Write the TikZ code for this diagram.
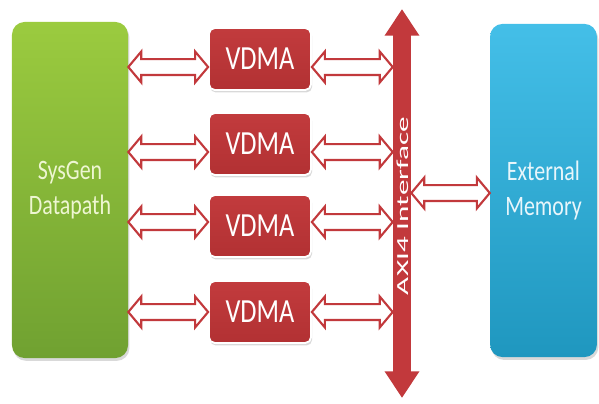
\documentclass[tikz,border=0pt]{standalone}
\usepackage{fontspec}
\setmainfont{Carlito}[FakeStretch=0.78]
\newfontfamily\busfont{Carlito}[FakeStretch=1.85]
\usetikzlibrary{shapes.arrows, shadows, calc, arrows.meta}

\definecolor{dmaRed}{HTML}{C23B3D}
\definecolor{dmaRedDark}{HTML}{B23133}
\definecolor{linkRed}{HTML}{C2393C}
\definecolor{greenTop}{HTML}{9BCB3F}
\definecolor{greenBot}{HTML}{70A131}
\definecolor{blueTop}{HTML}{44BFE8}
\definecolor{blueBot}{HTML}{1F97BF}
\definecolor{greenText}{HTML}{EEF6D2}
\definecolor{blueText}{HTML}{E8F6FB}

% hollow two-headed link, placed between the borders of two nodes
\newcommand{\dmalink}[4]{%
    \path let \p1=(#2.east), \p2=(#3.west), \p3=(0,#4),
        \n1={\x2-\x1} in
        node[linkArrow, minimum height=\n1] (#1) at ({\x1/2+\x2/2},\y3) {};
}

\begin{document}
\begin{tikzpicture}[
    x=0.025cm, y=-0.025cm,
    block/.style={
        rectangle, rounded corners=9pt, align=center,
        font=\fontsize{20}{25}\selectfont,
        drop shadow={opacity=0.3, shadow xshift=1pt, shadow yshift=-2pt}
    },
    srcBlock/.style={block, top color=greenTop, bottom color=greenBot,
        text=greenText, minimum width=82.5pt, minimum height=239pt},
    memBlock/.style={block, top color=blueTop, bottom color=blueBot,
        text=blueText, minimum width=76pt, minimum height=237pt},
    dmaBox/.style={
        rectangle, rounded corners=4pt, draw=white, line width=1.3pt,
        top color=dmaRed, bottom color=dmaRedDark, text=white,
        minimum width=72.5pt, minimum height=44pt,
        font=\fontsize{24}{28}\selectfont,
        drop shadow={opacity=0.3, shadow xshift=0.8pt, shadow yshift=-1.8pt}
    },
    linkArrow/.style={
        double arrow, draw=linkRed, fill=white, line width=1.5pt,
        inner xsep=0pt, inner ysep=4.9pt, minimum width=1pt,
        double arrow head extend=5.3pt, double arrow tip angle=100
    },
    busLine/.style={
        draw=linkRed, line width=12.8pt,
        {Triangle[width=23.5pt, length=19pt]}-{Triangle[width=23.5pt, length=19pt]}
    },
    busLabel/.style={rotate=90, text=white, font=\busfont\fontsize{12}{14}\selectfont}
]
    \useasboundingbox (0,0) rectangle (599,403);

    % --- end blocks ---
    \node[srcBlock] (datapath) at (70,190) {SysGen\\Datapath};
    \node[memBlock] (memory) at (543.5,190.5) {External\\Memory};

    % --- VDMA engines ---
    \node[dmaBox] (vdma1) at (260,59) {VDMA};
    \node[dmaBox] (vdma2) at (260,144) {VDMA};
    \node[dmaBox] (vdma3) at (260,226) {VDMA};
    \node[dmaBox] (vdma4) at (260,312) {VDMA};

    % --- AXI4 bus ---
    \coordinate (busTop) at (402,9);
    \coordinate (busBot) at (402,398);
    \node[minimum width=12.8pt, minimum height=260pt, inner sep=0pt] (bus) at (402,203) {};
    \draw[busLine] (busBot) -- (busTop);
    \node[busLabel] (busText) at (403,206) {AXI4 Interface};

    % --- links ---
    \dmalink{inLink1}{datapath}{vdma1}{67}
    \dmalink{inLink2}{datapath}{vdma2}{152}
    \dmalink{inLink3}{datapath}{vdma3}{222}
    \dmalink{inLink4}{datapath}{vdma4}{312}
    \dmalink{outLink1}{vdma1}{bus}{67}
    \dmalink{outLink2}{vdma2}{bus}{152}
    \dmalink{outLink3}{vdma3}{bus}{222}
    \dmalink{outLink4}{vdma4}{bus}{312}
    \dmalink{memLink}{bus}{memory}{193}
\end{tikzpicture}
\end{document}
